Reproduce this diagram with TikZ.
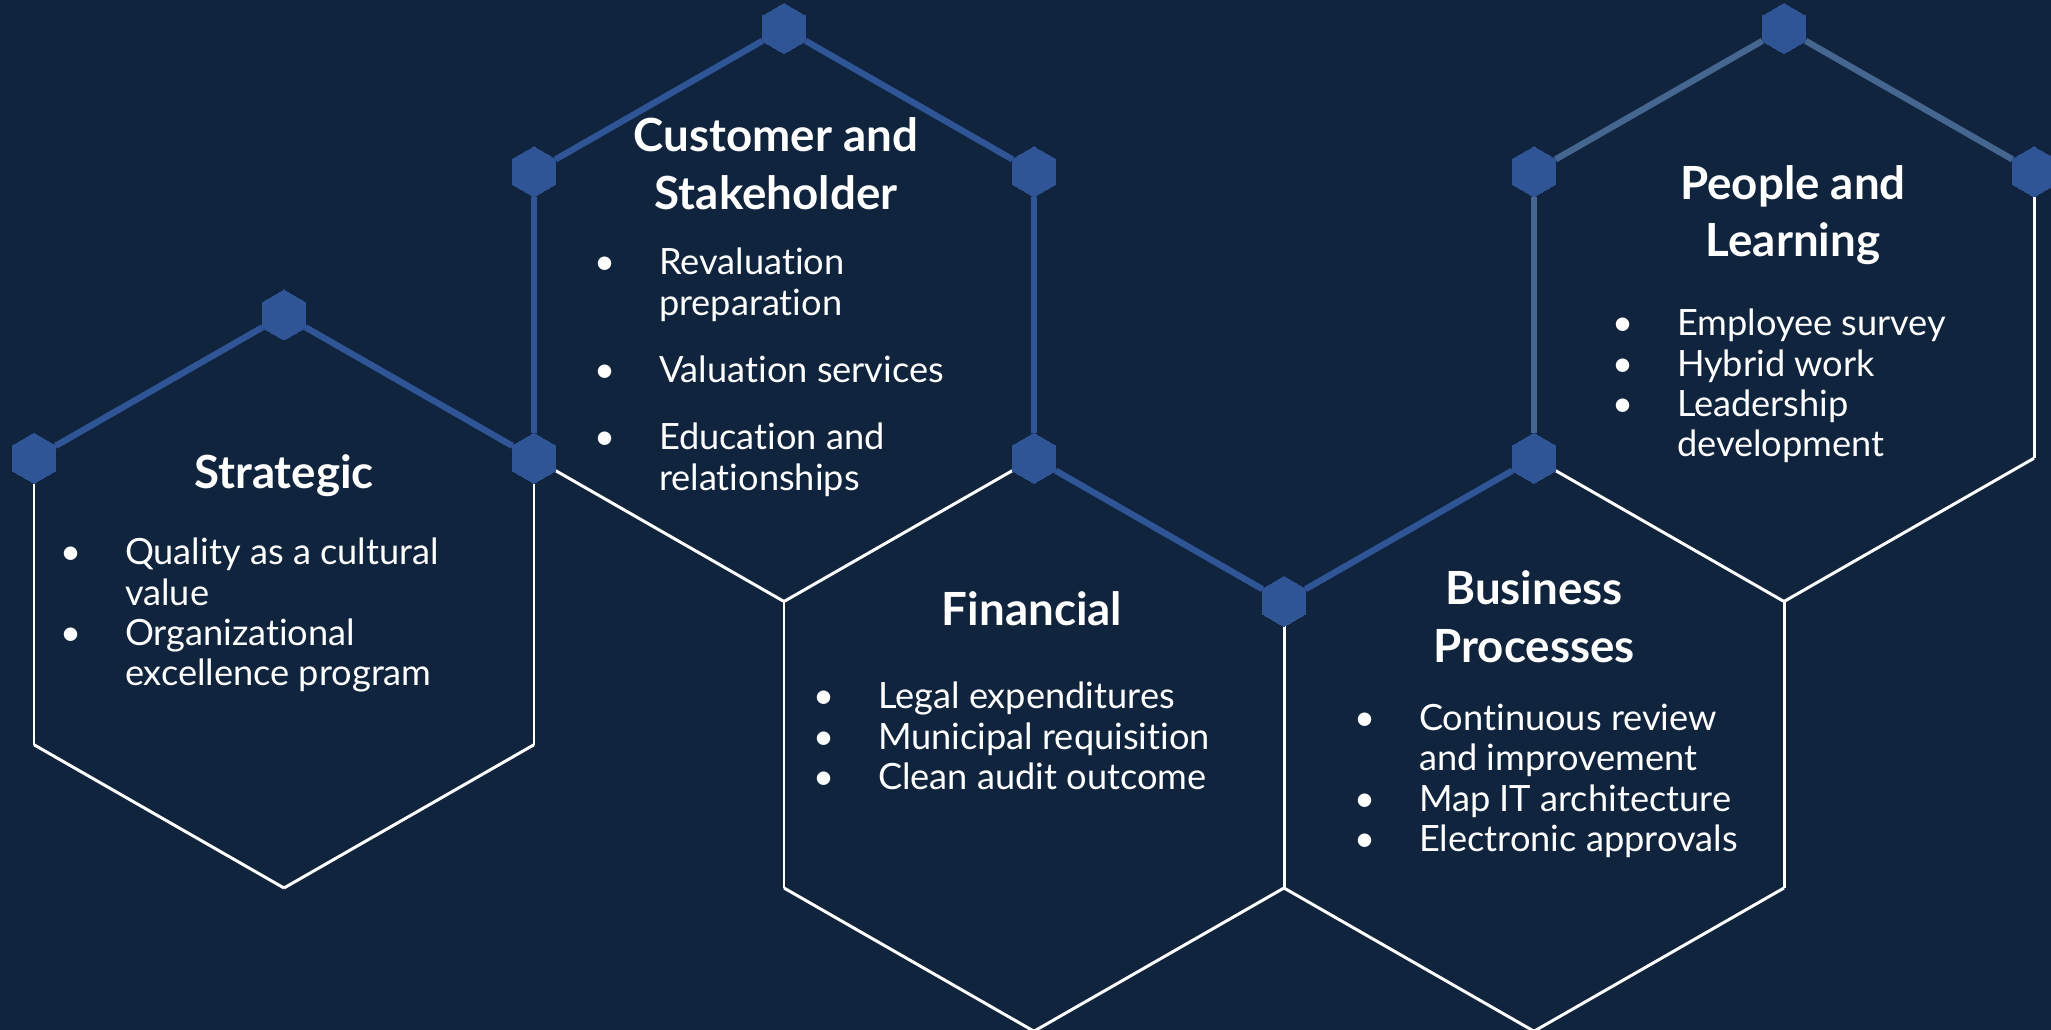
\documentclass[tikz,border=0pt]{standalone}
\usepackage{fontspec}
\setmainfont{Lato}[Ligatures={NoCommon}]
\usepackage{tikz-network}
\usetikzlibrary{shapes.geometric}

\definecolor{bgnavy}{RGB}{16,36,62}
\definecolor{hexblue}{RGB}{47,85,151}
\definecolor{peopleblue}{RGB}{68,102,143}
\pagecolor{bgnavy}

\newcommand\titlefont{\fontsize{13}{16.4}\selectfont\bfseries}
\newcommand\bodyfont{\fontsize{10.3}{11.5}\selectfont}
\newcommand\bul{\makebox[6.5mm][l]{\textbullet}}
\newcommand\bhang{\hspace*{6.5mm}}

\tikzset{hexmark/.style={regular polygon, regular polygon sides=6, shape border rotate=30, minimum size=5mm, inner sep=0pt}}

\begin{document}
\begin{tikzpicture}[line cap=round]
\useasboundingbox (0,0) rectangle (20.51,10.30);

\SetVertexStyle[LineWidth=0, FillColor=hexblue, LineColor=hexblue, InnerSep=0]
\SetEdgeStyle[Color=white, LineWidth=0.85]
\SetTextStyle[TextFont=\bodyfont, TextColor=white]

% Strategic
\Vertex[x=2.84,y=7.15,size=.5,style={hexmark}]{Str_1}
\Vertex[x=5.34,y=5.7175,size=.5,style={hexmark}]{Str_2}
\coordinate (Str_3) at (5.34,2.8525);
\coordinate (Str_4) at (2.84,1.42);
\coordinate (Str_5) at (0.34,2.8525);
\Vertex[x=0.34,y=5.7175,size=.5,style={hexmark}]{Str_6}
\Edge[color=hexblue,lw=1.8](Str_6)(Str_1)
\Edge[color=hexblue,lw=1.8](Str_1)(Str_2)
\Edge[](Str_6)(Str_5)
\Edge[](Str_5)(Str_4)
\Edge[](Str_4)(Str_3)
\Edge[](Str_3)(Str_2)
\Text[x=2.84,y=5.54,fontsize=\titlefont]{Strategic}
\Text[x=0.53,y=4.99,style={anchor=north west,align=left}]{\bul Quality as a cultural\\\bhang value\\\bul Organizational\\\bhang excellence program}

% Customer and Stakeholder
\Vertex[x=7.84,y=10.015,size=.5,style={hexmark}]{Cus_1}
\Vertex[x=10.34,y=8.5825,size=.5,style={hexmark}]{Cus_2}
\Vertex[x=10.34,y=5.7175,size=.5,style={hexmark}]{Cus_3}
\coordinate (Cus_4) at (7.84,4.285);
\Vertex[x=5.34,y=8.5825,size=.5,style={hexmark}]{Cus_6}
\Edge[color=hexblue,lw=1.8](Cus_6)(Cus_1)
\Edge[color=hexblue,lw=1.8](Cus_1)(Cus_2)
\Edge[color=hexblue,lw=1.8](Cus_6)(Str_2)
\Edge[color=hexblue,lw=1.8](Cus_2)(Cus_3)
\Edge[](Str_2)(Cus_4)
\Edge[](Cus_4)(Cus_3)
\Text[x=7.76,y=8.66,fontsize=\titlefont,style={align=center}]{Customer and\\Stakeholder}
\Text[x=5.87,y=7.89,style={anchor=north west,align=left}]{\bul Revaluation\\\bhang preparation\\[2.7mm]\bul Valuation services\\[2.7mm]\bul Education and\\\bhang relationships}

% Financial
\Vertex[x=12.84,y=4.285,size=.5,style={hexmark}]{Fin_2}
\coordinate (Fin_3) at (12.84,1.42);
\coordinate (Fin_4) at (10.34,-0.0125);
\coordinate (Fin_5) at (7.84,1.42);
\Edge[color=hexblue,lw=1.8](Cus_3)(Fin_2)
\Edge[](Cus_4)(Fin_5)
\Edge[](Fin_5)(Fin_4)
\Edge[](Fin_4)(Fin_3)
\Edge[](Fin_3)(Fin_2)
\Text[x=10.32,y=4.215,fontsize=\titlefont]{Financial}
\Text[x=8.06,y=3.55,style={anchor=north west,align=left}]{\bul Legal expenditures\\\bul Municipal requisition\\\bul Clean audit outcome}

% Business Processes
\Vertex[x=15.34,y=5.7175,size=.5,style={hexmark}]{Bus_1}
\coordinate (Bus_2) at (17.84,4.285);
\coordinate (Bus_3) at (17.84,1.42);
\coordinate (Bus_4) at (15.34,-0.0125);
\Edge[color=hexblue,lw=1.8](Fin_2)(Bus_1)
\Edge[](Bus_1)(Bus_2)
\Edge[](Bus_2)(Bus_3)
\Edge[](Bus_3)(Bus_4)
\Edge[](Bus_4)(Fin_3)
\Text[x=15.34,y=4.13,fontsize=\titlefont,style={align=center}]{Business\\Processes}
\Text[x=13.47,y=3.33,style={anchor=north west,align=left}]{\bul Continuous review\\\bhang and improvement\\\bul Map IT architecture\\\bul Electronic approvals}

% People and Learning
\Vertex[x=17.84,y=10.015,size=.5,style={hexmark}]{Peo_1}
\Vertex[x=20.34,y=8.5825,size=.5,style={hexmark}]{Peo_2}
\coordinate (Peo_3) at (20.34,5.7175);
\Vertex[x=15.34,y=8.5825,size=.5,style={hexmark}]{Peo_6}
\Edge[color=peopleblue,lw=1.8](Peo_6)(Peo_1)
\Edge[color=peopleblue,lw=1.8](Peo_1)(Peo_2)
\Edge[color=peopleblue,lw=1.8](Peo_6)(Bus_1)
\Edge[](Peo_2)(Peo_3)
\Edge[](Peo_3)(Bus_2)
\Text[x=17.93,y=8.15,fontsize=\titlefont,style={align=center}]{People and\\Learning}
\Text[x=16.05,y=7.28,style={anchor=north west,align=left}]{\bul Employee survey\\\bul Hybrid work\\\bul Leadership\\\bhang development}

\end{tikzpicture}
\end{document}
